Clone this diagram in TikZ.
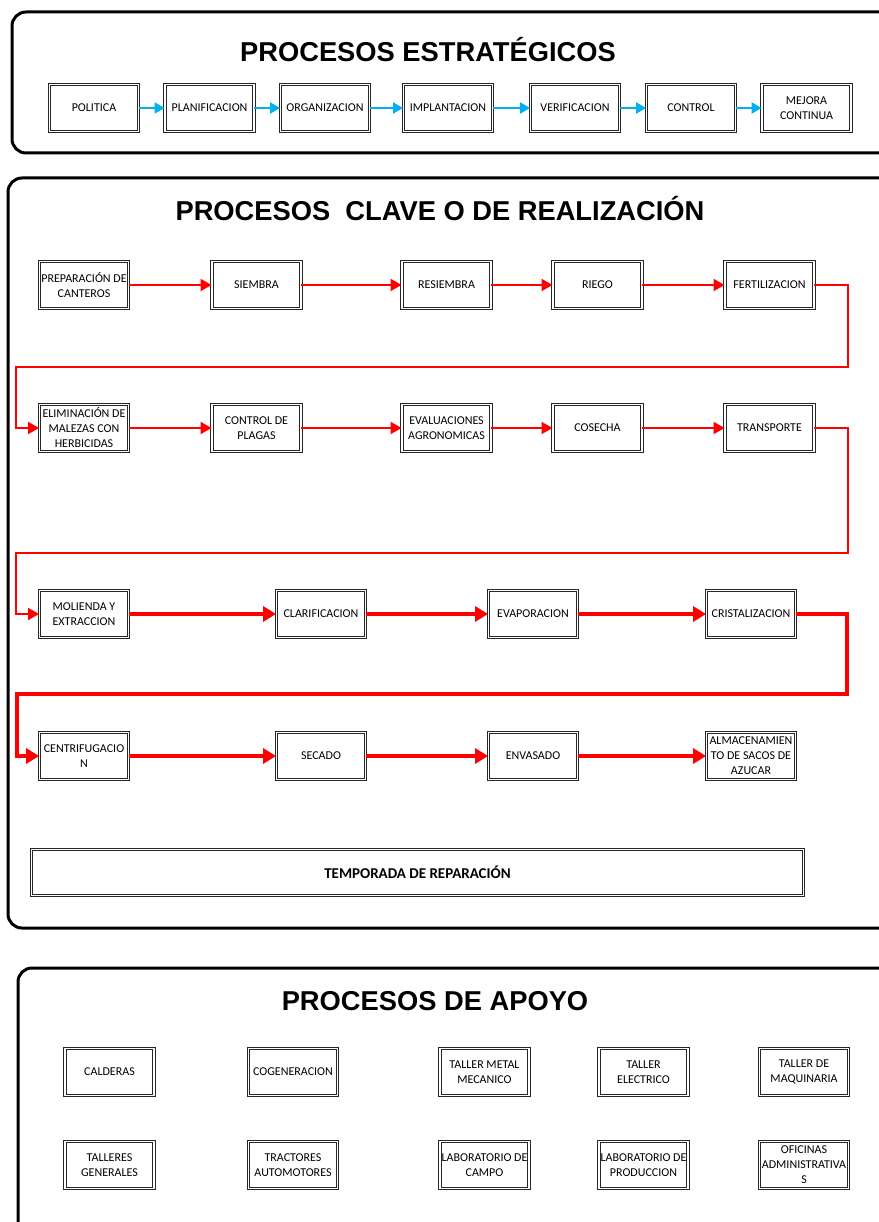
\documentclass[tikz,border=0pt]{standalone}
\usepackage{fontspec}
\setmainfont{Carlito}
\newfontfamily\arialfont{Liberation Sans}
\usepackage{tikz}
\usetikzlibrary{arrows.meta}

\definecolor{azulflecha}{RGB}{0,176,240}

\begin{document}
\begin{tikzpicture}[x=1pt, y=-1pt,
	marco/.style={line width=3pt, rounded corners=14pt},
	titulo/.style={anchor=base, font=\arialfont\bfseries\fontsize{27.3}{30}\selectfont},
	caja/.style={draw=black!85, double=white, double distance=1.4pt, line width=0.9pt,
		minimum width=89pt, minimum height=47pt, inner sep=0pt, align=center,
		font=\fontsize{12}{15}\selectfont},
	flechaazul/.style={-{Triangle[length=10pt,width=11pt]}, azulflecha, line width=2pt},
	flecharoja/.style={-{Triangle[length=11pt,width=12pt]}, red, line width=2pt},
	flechagruesa/.style={-{Triangle[length=13pt,width=15pt]}, red, line width=3.5pt}
]

\useasboundingbox (0,0) rectangle (878,1222);

% marcos
\draw[marco] (12,12) rectangle (910,153);
\draw[marco] (8,178) rectangle (910,928);
\draw[marco] (18,968) rectangle (910,1240);

\node[titulo] (tit1) at (428,62) {PROCESOS ESTRATÉGICOS};
\node[titulo] (tit2) at (440,221) {PROCESOS\ \ CLAVE O DE REALIZACIÓN};
\node[titulo] (tit3) at (435,1010) {PROCESOS DE APOYO};


% estrategicos
\foreach \nm/\cx/\txt in {pol/94/POLITICA, pla/209.5/PLANIFICACION, org/325/ORGANIZACION,
		imp/448/IMPLANTACION, ver/575/VERIFICACION, con/691/CONTROL, mej/806.5/{MEJORA\\CONTINUA}}
	\node[caja] (\nm) at (\cx,108) {\txt};

\foreach \a/\b in {pol/pla, pla/org, org/imp, imp/ver, ver/con, con/mej}
	\draw[flechaazul] (\a) -- (\b);


% clave
\foreach \nm/\cx/\txt in {pre/84/{PREPARACIÓN DE\\CANTEROS}, sie/256.5/SIEMBRA, res/446.5/RESIEMBRA,
		rie/597.5/RIEGO, fer/769.5/FERTILIZACION}
	\node[caja] (\nm) at (\cx,285) {\txt};

\foreach \nm/\cx/\txt in {eli/84/{ELIMINACIÓN DE\\MALEZAS CON\\HERBICIDAS}, pla2/256.5/{CONTROL DE\\PLAGAS},
		eva1/446.5/{EVALUACIONES\\AGRONOMICAS}, cos/597.5/COSECHA, tra/769.5/TRANSPORTE}
	\node[caja] (\nm) at (\cx,428) {\txt};

\foreach \nm/\cx/\txt in {mol/84/{MOLIENDA Y\\EXTRACCION}, cla/321/CLARIFICACION, evp/533/EVAPORACION,
		cri/751/CRISTALIZACION}
	\node[caja] (\nm) at (\cx,614) {\txt};

\foreach \nm/\cx/\txt in {cen/84/{CENTRIFUGACIO\\N}, sec/321/SECADO, env/533/ENVASADO,
		alm/751/{ALMACENAMIEN\\TO DE SACOS DE\\AZUCAR}}
	\node[caja] (\nm) at (\cx,756) {\txt};

\foreach \a/\b in {pre/sie, sie/res, res/rie, rie/fer, eli/pla2, pla2/eva1, eva1/cos, cos/tra}
	\draw[flecharoja] (\a) -- (\b);

\foreach \a/\b in {mol/cla, cla/evp, evp/cri, cen/sec, sec/env, env/alm}
	\draw[flechagruesa] (\a) -- (\b);

\coordinate (v1) at (848,367);
\coordinate (v2) at (16,428);
\coordinate (v3) at (848,553);
\coordinate (v4) at (16,614);
\coordinate (v5) at (847,694);
\coordinate (v6) at (17,756);

\draw[flecharoja] (fer.east) -| (v1) -| (v2) -- (eli.west);
\draw[flecharoja] (tra.east) -| (v3) -| (v4) -- (mol.west);
\draw[flechagruesa] (cri.east) -| (v5) -| (v6) -- (cen.west);

\node[caja, minimum width=772pt, minimum height=46pt, font=\bfseries\fontsize{15}{18}\selectfont]
	(tem) at (417.5,872.5) {TEMPORADA DE REPARACIÓN};


% apoyo
\foreach \nm/\cx/\txt in {cal/109.5/CALDERAS, cog/293/COGENERACION, tmm/484.5/{TALLER METAL\\MECANICO},
		tel/643.5/{TALLER\\ELECTRICO}, tma/804/{TALLER DE\\MAQUINARIA}}
	\node[caja] (\nm) at (\cx,1072) {\txt};

\foreach \nm/\cx/\txt in {tge/109.5/{TALLERES\\GENERALES}, tra2/293/{TRACTORES\\AUTOMOTORES},
		lca/484.5/{LABORATORIO DE\\CAMPO}, lpr/643.5/{LABORATORIO DE\\PRODUCCION},
		ofi/804/{OFICINAS\\ADMINISTRATIVA\\S}}
	\node[caja] (\nm) at (\cx,1165) {\txt};

\end{tikzpicture}
\end{document}
